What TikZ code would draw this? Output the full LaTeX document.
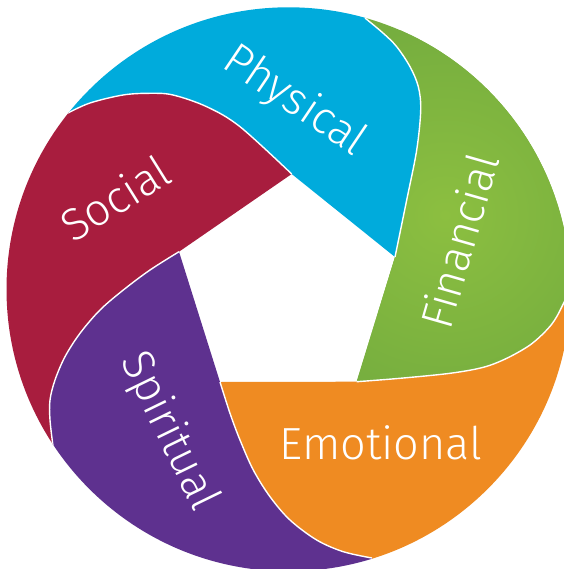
\documentclass[tikz,border=0pt]{standalone}
\usepackage{fontspec}
\newfontfamily\labfont{Fira Sans Light}
\usetikzlibrary{calc}
\definecolor{cblue}{HTML}{00ABDC}
\definecolor{cbluel}{HTML}{1AB0E0}
\definecolor{cgreen}{HTML}{76AE3F}
\definecolor{cgreenl}{HTML}{8CBF40}
\definecolor{corange}{HTML}{EF8B22}
\definecolor{cpurple}{HTML}{5E318F}
\definecolor{cred}{HTML}{A81D3E}
\begin{document}
\begin{tikzpicture}[x=1pt,y=-1pt,
  lab/.style={text=white, font=\labfont\fontsize{45}{45}\selectfont, inner sep=0pt},
  sep/.style={white, line width=1.4pt},
  crv/.style={smooth, tension=0.55}]
\useasboundingbox (0,0) rectangle (563,569);
\fill[white] (0,0) rectangle (563,569);
% centre and pentagon vertices
\coordinate (O) at (288.5,289.3);
\coordinate (V1) at (291.7,174);
\coordinate (V2) at (395,257);
\coordinate (V3) at (356.7,381.7);
\coordinate (V4) at (220,382);
\coordinate (V5) at (179,251.7);
% outer ends of the curves
\coordinate (P1) at (68,113);
\coordinate (P2) at (365,18);
\coordinate (P3) at (569,292);
\coordinate (P4) at (372,558);
\coordinate (P5) at (53,446);
% far points
\coordinate (F1) at ($(O)+(-141.4:620)$);
\coordinate (F2) at ($(O)+(-74.3:620)$);
\coordinate (F3) at ($(O)+(0.6:620)$);
\coordinate (F4) at ($(O)+(72.7:620)$);
\coordinate (F5) at ($(O)+(146.5:620)$);
\coordinate (F12) at ($(O)+(-107.8:620)$);
\coordinate (F23) at ($(O)+(-36.8:620)$);
\coordinate (F34) at ($(O)+(36.6:620)$);
\coordinate (F45) at ($(O)+(109.6:620)$);
\coordinate (F51) at ($(O)+(182.5:620)$);
\begin{scope}
\clip (O) circle[radius=282pt];
% Physical (blue)
\fill[cblue] (V1) -- (V2)
  -- plot[crv] coordinates {(V2) (406.7,200) (416.7,150) (420.7,110) (418.3,86.7) (410,66.7) (396.7,46.7) (383.3,33.3) (P2)}
  -- (F2) -- (F12) -- (F1)
  -- plot[crv] coordinates {(P1) (90,103) (123,95) (150,93.3) (173,95) (206.7,106.7) (240,126.7) (V1)} -- cycle;
% Financial (green) with soft lighter centre
\begin{scope}
\clip (V2) -- (V3)
  -- plot[crv] coordinates {(V3) (400,378.3) (450,373.3) (483.3,367.3) (506.7,358.3) (530,345) (546.7,330) (556.7,316.7) (P3)}
  -- (F3) -- (F23) -- (F2)
  -- plot[crv] coordinates {(P2) (383.3,33.3) (396.7,46.7) (410,66.7) (418.3,86.7) (420.7,110) (416.7,150) (406.7,200) (V2)} -- cycle;
\fill[cgreen] (0,0) rectangle (600,600);
\shade[inner color=cgreenl, outer color=cgreen] (445,215) circle[radius=190pt];
\end{scope}
% Emotional (orange)
\fill[corange] (V3) -- (V4)
  -- plot[crv] coordinates {(V4) (230,413.3) (240,440) (253.3,470) (270,496.7) (290,520) (316.7,540) (343.3,551.7) (P4)}
  -- (F4) -- (F34) -- (F3)
  -- plot[crv] coordinates {(P3) (556.7,316.7) (546.7,330) (530,345) (506.7,358.3) (483.3,367.3) (450,373.3) (400,378.3) (V3)} -- cycle;
% Spiritual (purple)
\fill[cpurple] (V4) -- (V5)
  -- plot[crv] coordinates {(V5) (150,270) (123.3,290) (100,310) (80,333.3) (65,356.7) (55,380) (50,400) (50,420) (P5)}
  -- (F5) -- (F45) -- (F4)
  -- plot[crv] coordinates {(P4) (343.3,551.7) (316.7,540) (290,520) (270,496.7) (253.3,470) (240,440) (230,413.3) (V4)} -- cycle;
% Social (red)
\fill[cred] (V5) -- (V1)
  -- plot[crv] coordinates {(V1) (240,126.7) (206.7,106.7) (173,95) (150,93.3) (123,95) (90,103) (P1)}
  -- (F1) -- (F51) -- (F5)
  -- plot[crv] coordinates {(P5) (50,420) (50,400) (55,380) (65,356.7) (80,333.3) (100,310) (123.3,290) (150,270) (V5)} -- cycle;
% white separators
\draw[sep] plot[crv] coordinates {(V1) (240,126.7) (206.7,106.7) (173,95) (150,93.3) (123,95) (90,103) (P1)};
\draw[sep] plot[crv] coordinates {(V2) (406.7,200) (416.7,150) (420.7,110) (418.3,86.7) (410,66.7) (396.7,46.7) (383.3,33.3) (P2)};
\draw[sep] plot[crv] coordinates {(V3) (400,378.3) (450,373.3) (483.3,367.3) (506.7,358.3) (530,345) (546.7,330) (556.7,316.7) (P3)};
\draw[sep] plot[crv] coordinates {(V4) (230,413.3) (240,440) (253.3,470) (270,496.7) (290,520) (316.7,540) (343.3,551.7) (P4)};
\draw[sep] plot[crv] coordinates {(V5) (150,270) (123.3,290) (100,310) (80,333.3) (65,356.7) (55,380) (50,400) (50,420) (P5)};
\end{scope}
% labels
\node[lab, rotate=-34, anchor=base] (physical) at (287.5,111.7) {Physical};
\node[lab, rotate=74, anchor=base] (financial) at (475,245.3) {Financial};
\node[lab, anchor=base] (emotional) at (381,459) {Emotional};
\node[lab, rotate=-64, anchor=base] (spiritual) at (157.5,437) {Spiritual};
\node[lab, rotate=32, anchor=base] (social) at (124,212) {Social};
\end{tikzpicture}
\end{document}
